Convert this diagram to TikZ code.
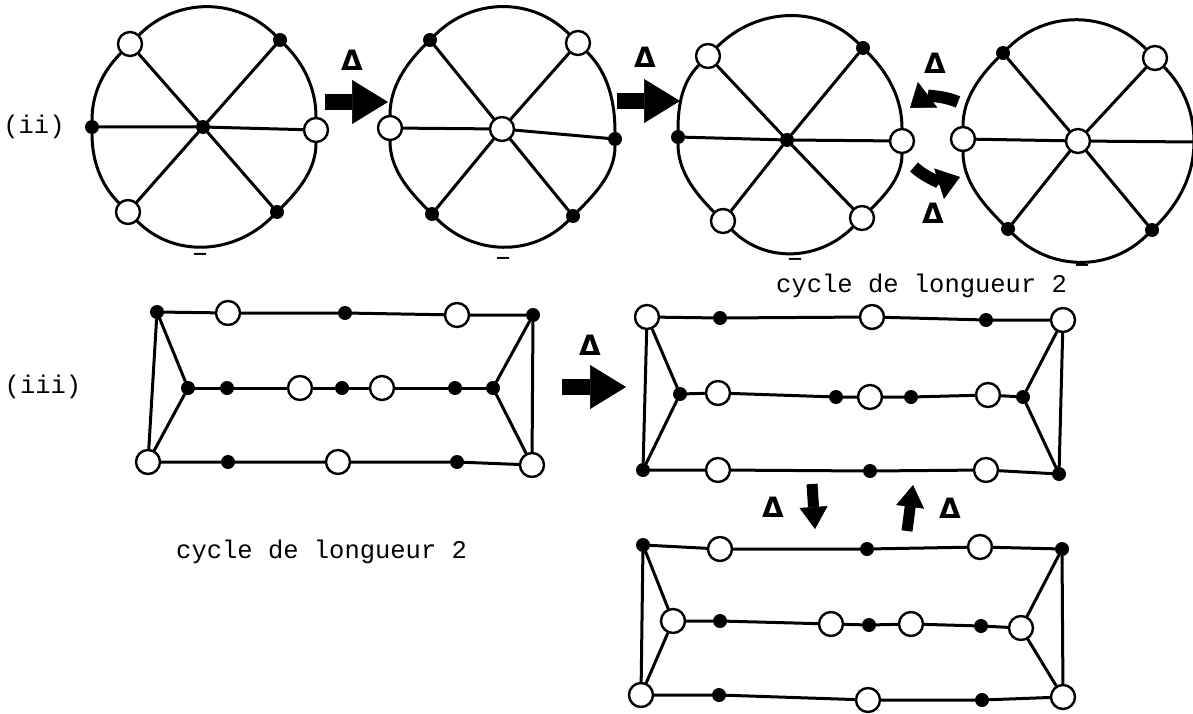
\documentclass[tikz,border=0pt]{standalone}
\usepackage{fontspec}
\setmonofont{Liberation Mono}
\newfontfamily\deltafont{DejaVu Sans}
\usetikzlibrary{arrows.meta, positioning}
\tikzset{
  wvtx/.style ={circle, draw=black, line width=2.4pt, fill=white, minimum size=24pt, inner sep=0pt},
  bvtx/.style ={circle, fill=black, minimum size=14pt, inner sep=0pt},
  gedge/.style={line width=3pt, line cap=round},
  fatarr/.style ={-{Triangle[length=36pt, width=44pt, line width=0.5pt]}, line width=16pt},
  curvarr/.style={-{Triangle[length=22pt, width=32pt, line width=0.5pt]}, line width=12pt},
  vertarr/.style={-{Triangle[length=22pt, width=28pt, line width=0.5pt]}, line width=11pt},
  dlbl/.style ={font=\deltafont\bfseries\fontsize{28}{30}\selectfont, inner sep=0pt},
  ttlbl/.style={font=\ttfamily\fontsize{25.5}{28}\selectfont, inner sep=0pt},
  mlbl/.style ={font=\ttfamily\bfseries\fontsize{20}{22}\selectfont, inner sep=0pt},
}
\begin{document}
\begin{tikzpicture}[x=1pt, y=-1pt]
  \useasboundingbox (0,0) rectangle (1193,714);
  \clip (0,0) rectangle (1193,714);

  % (ii) : les quatre roues
  \node[bvtx] (w1c) at (203,127) {};
  \node[wvtx] (w1tl) at (130,44) {};  \node[bvtx] (w1tr) at (280,40) {};
  \node[bvtx] (w1l) at (92,127) {};   \node[wvtx] (w1r) at (316,130) {};
  \node[wvtx] (w1bl) at (128,212) {}; \node[bvtx] (w1br) at (277,212) {};
  \node[wvtx] (w2c) at (502,129) {};
  \node[bvtx] (w2tl) at (430,40) {};  \node[wvtx] (w2tr) at (578,43) {};
  \node[wvtx] (w2l) at (390,128) {};  \node[bvtx] (w2r) at (615,139) {};
  \node[bvtx] (w2bl) at (432,214) {}; \node[bvtx] (w2br) at (573,216) {};
  \node[bvtx] (w3c) at (787,140) {};
  \node[wvtx] (w3tl) at (708,56) {};  \node[bvtx] (w3tr) at (863,48) {};
  \node[bvtx] (w3l) at (678,137) {};  \node[wvtx] (w3r) at (902,141) {};
  \node[wvtx] (w3bl) at (723,221) {}; \node[wvtx] (w3br) at (862,218) {};
  \node[wvtx] (w4c) at (1078,141) {};
  \node[bvtx] (w4tl) at (1003,53) {}; \node[wvtx] (w4tr) at (1155,58) {};
  \node[wvtx] (w4l) at (963,139) {};  \coordinate (w4r) at (1194,142);
  \node[bvtx] (w4bl) at (1008,229) {}; \node[bvtx] (w4br) at (1152,230) {};

  \draw[gedge] (w1l) to[out=90,in=225,looseness=0.9] (w1tl) to[out=45,in=135] (w1tr) to[out=-45,in=90,looseness=0.9] (w1r)
    to[out=-90,in=45,looseness=0.9] (w1br) to[out=-135,in=-45] (w1bl) to[out=135,in=-90,looseness=0.9] (w1l);
  \draw[gedge] (w1tl) -- (w1c) -- (w1br) (w1tr) -- (w1c) -- (w1bl) (w1l) -- (w1c) -- (w1r);
  \draw[gedge] (w2l) to[out=90,in=225,looseness=0.9] (w2tl) to[out=45,in=135] (w2tr) to[out=-45,in=90,looseness=0.9] (w2r)
    to[out=-90,in=45,looseness=0.9] (w2br) to[out=-135,in=-45] (w2bl) to[out=135,in=-90,looseness=0.9] (w2l);
  \draw[gedge] (w2tl) -- (w2c) -- (w2br) (w2tr) -- (w2c) -- (w2bl) (w2l) -- (w2c) -- (w2r);
  \draw[gedge] (w3l) to[out=90,in=225,looseness=0.9] (w3tl) to[out=45,in=135] (w3tr) to[out=-45,in=90,looseness=0.9] (w3r)
    to[out=-90,in=45,looseness=0.9] (w3br) to[out=-135,in=-45] (w3bl) to[out=135,in=-90,looseness=0.9] (w3l);
  \draw[gedge] (w3tl) -- (w3c) -- (w3br) (w3tr) -- (w3c) -- (w3bl) (w3l) -- (w3c) -- (w3r);
  \draw[gedge] (w4l) to[out=90,in=225,looseness=0.9] (w4tl) to[out=45,in=135] (w4tr) to[out=-45,in=90,looseness=0.9] (w4r)
    to[out=-90,in=45,looseness=0.9] (w4br) to[out=-135,in=-45] (w4bl) to[out=135,in=-90,looseness=0.9] (w4l);
  \draw[gedge] (w4tl) -- (w4c) -- (w4br) (w4tr) -- (w4c) -- (w4bl) (w4l) -- (w4c) -- (w4r);

  \node[ttlbl, left=20pt of w1l] (lii) {(ii)};
  \node[mlbl] (m1) at (200,256) {—};  \node[mlbl] (m2) at (503,260) {—};
  \node[mlbl] (m3) at (795,261) {—};  \node[mlbl] (m4) at (1082,267) {—};

  \coordinate (a1s) at (325,102); \coordinate (a1e) at (388,102);
  \coordinate (a2s) at (617,101); \coordinate (a2e) at (680,101);
  \draw[fatarr] (a1s) -- (a1e);  \draw[fatarr] (a2s) -- (a2e);
  \node[dlbl] (d1) at (352,60) {Δ};
  \node[dlbl] (d2) at (645,57) {Δ};
  \coordinate (c1s) at (958,102); \coordinate (c1e) at (910,108);
  \coordinate (c2s) at (914,167); \coordinate (c2e) at (960,177);
  \draw[curvarr] (c1s) to[bend right=30] (c1e);
  \draw[curvarr] (c2s) to[bend right=30] (c2e);
  \node[dlbl] (d3) at (935,63) {Δ};
  \node[dlbl] (d4) at (933,213) {Δ};
  \node[ttlbl, anchor=west] (cyc1) at (776,286) {cycle de longueur 2};

  % (iii) : graphe de gauche
  \node[bvtx] (g1t1) at (157,312) {}; \node[wvtx] (g1t2) at (228,313) {}; \node[bvtx] (g1t3) at (345,313) {};
  \node[wvtx] (g1t4) at (457,315) {}; \node[bvtx] (g1t5) at (533,315) {};
  \node[bvtx] (g1m1) at (188,388) {}; \node[bvtx] (g1m2) at (227,388) {}; \node[wvtx] (g1m3) at (300,388) {};
  \node[bvtx] (g1m4) at (342,388) {}; \node[wvtx] (g1m5) at (382,388) {}; \node[bvtx] (g1m6) at (455,388) {};
  \node[bvtx] (g1m7) at (493,388) {};
  \node[wvtx] (g1b1) at (148,462) {}; \node[bvtx] (g1b2) at (228,462) {}; \node[wvtx] (g1b3) at (338,462) {};
  \node[bvtx] (g1b4) at (457,462) {}; \node[wvtx] (g1b5) at (532,465) {};
  \draw[gedge] (g1t1) -- (g1t2) -- (g1t3) -- (g1t4) -- (g1t5);
  \draw[gedge] (g1m1) -- (g1m2) -- (g1m3) -- (g1m4) -- (g1m5) -- (g1m6) -- (g1m7);
  \draw[gedge] (g1b1) -- (g1b2) -- (g1b3) -- (g1b4) -- (g1b5);
  \draw[gedge] (g1t1) -- (g1b1) (g1t1) -- (g1m1) -- (g1b1) (g1t5) -- (g1b5) (g1t5) -- (g1m7) -- (g1b5);
  \node[ttlbl] (liii) at (43,387) {(iii)};
  \node[ttlbl, anchor=west] (cyc2) at (176,552) {cycle de longueur 2};

  \coordinate (a3s) at (562,387); \coordinate (a3e) at (626,387);
  \draw[fatarr] (a3s) -- (a3e);
  \node[dlbl] (d5) at (590,345) {Δ};

  % (iii) : graphe en haut a droite
  \node[wvtx] (g2t1) at (647,317) {}; \node[bvtx] (g2t2) at (720,318) {}; \node[wvtx] (g2t3) at (872,317) {};
  \node[bvtx] (g2t4) at (986,320) {}; \node[wvtx] (g2t5) at (1063,320) {};
  \node[bvtx] (g2m1) at (680,394) {}; \node[wvtx] (g2m2) at (718,393) {}; \node[bvtx] (g2m3) at (836,397) {};
  \node[wvtx] (g2m4) at (870,397) {}; \node[bvtx] (g2m5) at (911,397) {}; \node[wvtx] (g2m6) at (988,395) {};
  \node[bvtx] (g2m7) at (1023,397) {};
  \node[bvtx] (g2b1) at (643,470) {}; \node[wvtx] (g2b2) at (718,470) {}; \node[bvtx] (g2b3) at (870,471) {};
  \node[wvtx] (g2b4) at (986,470) {}; \node[bvtx] (g2b5) at (1059,474) {};
  \draw[gedge] (g2t1) -- (g2t2) -- (g2t3) -- (g2t4) -- (g2t5);
  \draw[gedge] (g2m1) -- (g2m2) -- (g2m3) -- (g2m4) -- (g2m5) -- (g2m6) -- (g2m7);
  \draw[gedge] (g2b1) -- (g2b2) -- (g2b3) -- (g2b4) -- (g2b5);
  \draw[gedge] (g2t1) -- (g2b1) (g2t1) -- (g2m1) -- (g2b1) (g2t5) -- (g2b5) (g2t5) -- (g2m7) -- (g2b5);

  \coordinate (v1s) at (812,484); \coordinate (v1e) at (815,529);
  \coordinate (v2s) at (907,531); \coordinate (v2e) at (913,485);
  \draw[vertarr] (v1s) -- (v1e);  \draw[vertarr] (v2s) -- (v2e);
  \node[dlbl] (d6) at (773,507) {Δ};
  \node[dlbl] (d7) at (950,508) {Δ};

  % (iii) : graphe en bas a droite
  \node[bvtx] (g3t1) at (643,545) {}; \node[wvtx] (g3t2) at (720,549) {}; \node[bvtx] (g3t3) at (867,549) {};
  \node[wvtx] (g3t4) at (980,547) {}; \node[bvtx] (g3t5) at (1062,549) {};
  \node[wvtx] (g3m1) at (673,621) {}; \node[bvtx] (g3m2) at (720,621) {}; \node[wvtx] (g3m3) at (831,624) {};
  \node[bvtx] (g3m4) at (869,625) {}; \node[wvtx] (g3m5) at (911,624) {}; \node[bvtx] (g3m6) at (981,626) {};
  \node[wvtx] (g3m7) at (1021,628) {};
  \node[wvtx] (g3b1) at (641,695) {}; \node[bvtx] (g3b2) at (719,695) {}; \node[wvtx] (g3b3) at (868,700) {};
  \node[bvtx] (g3b4) at (982,700) {}; \node[wvtx] (g3b5) at (1063,697) {};
  \draw[gedge] (g3t1) -- (g3t2) -- (g3t3) -- (g3t4) -- (g3t5);
  \draw[gedge] (g3m1) -- (g3m2) -- (g3m3) -- (g3m4) -- (g3m5) -- (g3m6) -- (g3m7);
  \draw[gedge] (g3b1) -- (g3b2) -- (g3b3) -- (g3b4) -- (g3b5);
  \draw[gedge] (g3t1) -- (g3b1) (g3t1) -- (g3m1) -- (g3b1) (g3t5) -- (g3b5) (g3t5) -- (g3m7) -- (g3b5);
\end{tikzpicture}
\end{document}
